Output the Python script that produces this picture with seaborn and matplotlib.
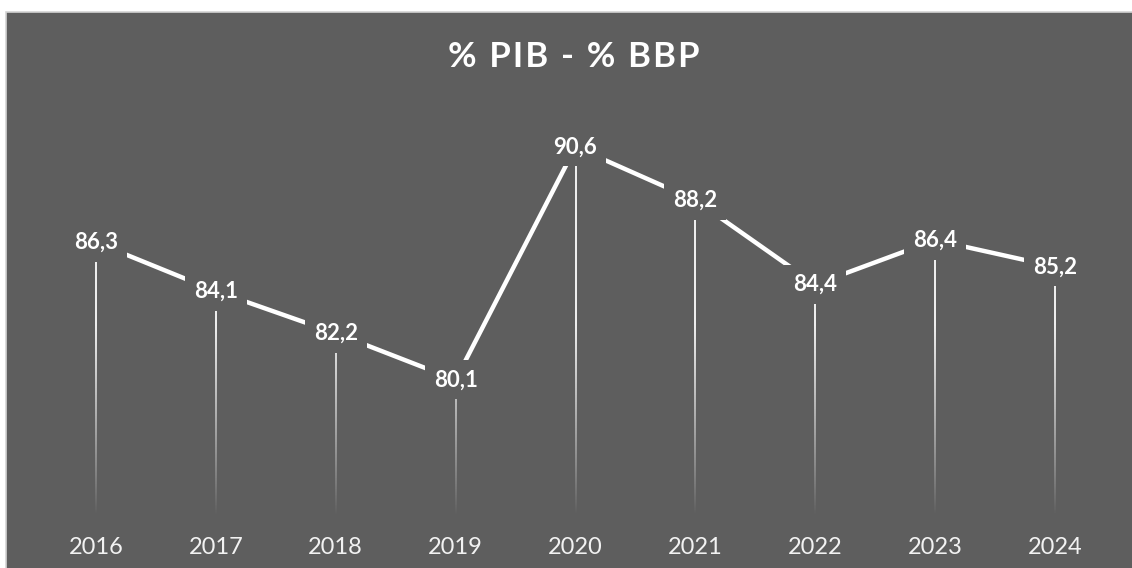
import numpy as np
import matplotlib.pyplot as plt
import seaborn as sns
from matplotlib.patches import Rectangle

# -------------------- Data --------------------
years = ["2016", "2017", "2018", "2019", "2020", "2021", "2022", "2023", "2024"]
values = [86.3, 84.1, 82.2, 80.1, 90.6, 88.2, 84.4, 86.4, 85.2]
labels = ["86,3", "84,1", "82,2", "80,1", "90,6", "88,2", "84,4", "86,4", "85,2"]
title = "% PIB - % BBP"

bg = "#5e5e5e"
y_min, y_max = 74, 92

sns.set_theme(style="dark")
plt.rcParams['font.family'] = ['Lato', 'DejaVu Sans']

fig = plt.figure(figsize=(11.32, 5.68), dpi=100, facecolor="white")
# chart frame, behind the axes (right and bottom edges run off the image)
fig.patches.append(Rectangle((6 / 1132, -0.02), 1.05, 1 - 12 / 568 + 0.02,
                             transform=fig.transFigure, facecolor=bg,
                             edgecolor="#d4d4d4", linewidth=1.2, zorder=-5))

ax = fig.add_axes([36 / 1132, 1 - 515 / 568, (1115 - 36) / 1132, (515 - 116) / 568])
ax.set_facecolor("none")

pos = np.arange(len(years))

# drop lines: thin gradient strips fading into the background
half_w = 1.0 / 119.9
for x, v in zip(pos, values):
    ys = np.linspace(v, y_min, 200)
    t = np.clip((ys - y_min) / 8.5, 0, 1) ** 0.9
    grad = np.ones((len(ys), 1, 4))
    grad[..., :3] = 0.93
    grad[:, 0, 3] = t
    ax.imshow(grad, extent=(x - half_w, x + half_w, y_min, v), aspect="auto",
              interpolation="bilinear", zorder=2)

sns.lineplot(x=pos, y=values, ax=ax, color="white", linewidth=3.2, zorder=3)

for x, v, lab in zip(pos, values, labels):
    ax.text(x, v, lab, ha="center", va="center", color="white", fontsize=16,
            fontweight="bold", zorder=5,
            bbox=dict(boxstyle="square,pad=0.4", facecolor=bg, edgecolor="none"))

ax.set_xlim(-0.5, len(years) - 0.5)
ax.set_ylim(y_min, y_max)
ax.set_xticks(pos)
ax.set_xticklabels(years, color="#f2f2f2", fontsize=17)
ax.set_yticks([])
ax.tick_params(axis="x", length=0, pad=16)
ax.grid(False)
for s in ax.spines.values():
    s.set_visible(False)
ax.set_xlabel("")
ax.set_ylabel("")

spaced_title = "\u200a".join(title)
fig.text(574 / 1132, 1 - 57 / 568, spaced_title, ha="center", va="center",
         color="white", fontsize=25, fontweight="bold")

plt.savefig("out.png", dpi=100, facecolor=fig.get_facecolor())
